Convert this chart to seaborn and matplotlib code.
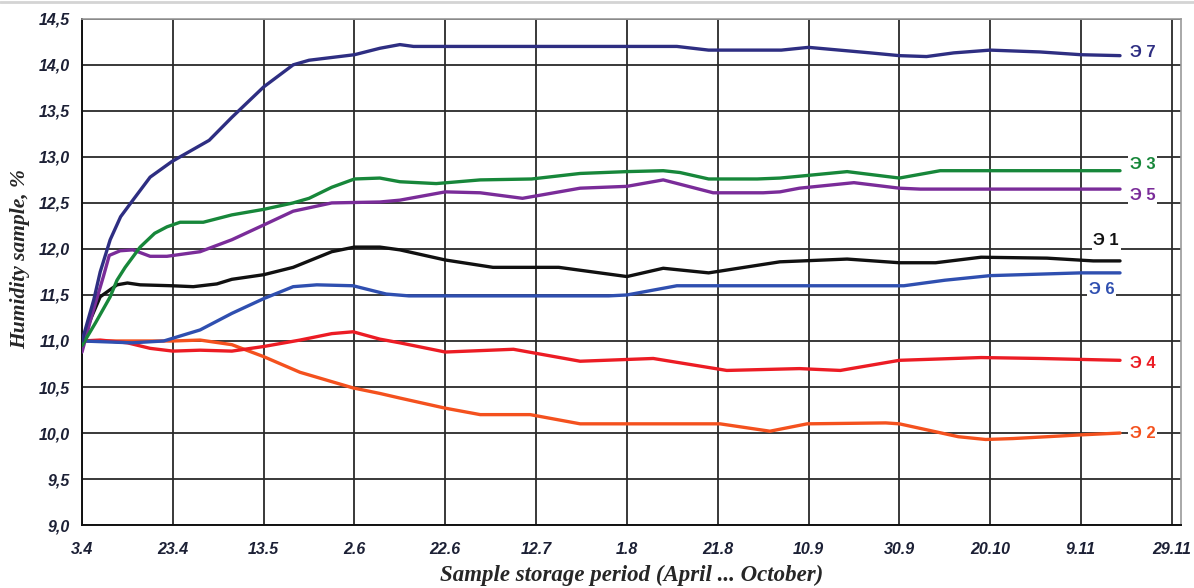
import numpy as np
import pandas as pd
import matplotlib
matplotlib.use("Agg")
import matplotlib.pyplot as plt
import matplotlib.ticker as mticker
from matplotlib.lines import Line2D
import seaborn as sns

# days since 3 April, humidity in %
e7_days = [0, 2.6, 4, 6.2, 8.5, 11.2, 15, 19.8, 28, 33, 40, 46.5, 50, 60, 65.6, 70, 73,
           131, 138, 154, 160, 173.6, 180, 186, 192, 200, 211, 220, 228.6]
e7_vals = [11.0, 11.45, 11.75, 12.1, 12.35, 12.53, 12.78, 12.95, 13.18, 13.43, 13.76, 14.0,
           14.05, 14.11, 14.18, 14.22, 14.2, 14.2, 14.16, 14.16, 14.19, 14.13, 14.1, 14.09,
           14.13, 14.16, 14.14, 14.11, 14.1]

e3_days = [0, 3, 6.2, 7.7, 9.5, 12.8, 16, 18.7, 21.6, 26.7, 33, 40, 46.5, 50, 55, 60, 65.6,
           70, 78, 87.7, 99, 109.7, 120, 128, 131.7, 138, 148.7, 153.7, 158, 168.5, 180, 189, 228.6]
e3_vals = [10.95, 11.2, 11.48, 11.66, 11.8, 12.02, 12.17, 12.24, 12.29, 12.29, 12.37, 12.43,
           12.5, 12.55, 12.67, 12.76, 12.77, 12.73, 12.71, 12.75, 12.76, 12.82, 12.84, 12.85,
           12.83, 12.76, 12.76, 12.77, 12.79, 12.84, 12.77, 12.85, 12.85]

e5_days = [0, 2, 4.7, 6, 8.4, 11.2, 15, 18.7, 26, 33, 40, 46.5, 55, 65.6, 70, 80, 87.7, 97,
           109.7, 120, 128, 139, 150, 153.7, 158, 170, 180, 184.6, 228.6]
e5_vals = [10.88, 11.25, 11.7, 11.93, 11.98, 11.99, 11.92, 11.92, 11.97, 12.1, 12.26, 12.41,
           12.5, 12.51, 12.53, 12.62, 12.61, 12.55, 12.66, 12.68, 12.75, 12.61, 12.61, 12.62,
           12.66, 12.72, 12.66, 12.65, 12.65]

e1_days = [0, 2, 4, 7.7, 10, 12.8, 19.8, 24.5, 29.7, 33, 40, 46.5, 55, 60, 65.6, 70, 80, 90.5,
           105, 120, 128, 138, 153.7, 168.5, 180, 188, 198, 212.5, 222.7, 228.6]
e1_vals = [11.0, 11.25, 11.48, 11.61, 11.63, 11.61, 11.6, 11.59, 11.62, 11.67, 11.72, 11.8,
           11.97, 12.02, 12.02, 11.99, 11.88, 11.8, 11.8, 11.7, 11.79, 11.74, 11.86, 11.89,
           11.85, 11.85, 11.91, 11.9, 11.87, 11.87]

e6_days = [0, 11, 18, 20, 26, 33, 40, 46.5, 51.7, 59.7, 67, 72, 116, 120, 131, 181, 190, 200,
           220, 228.6]
e6_vals = [11.0, 10.98, 11.0, 11.03, 11.12, 11.3, 11.46, 11.59, 11.61, 11.6, 11.51, 11.49,
           11.49, 11.5, 11.6, 11.6, 11.66, 11.71, 11.74, 11.74]

e4_days = [0, 4, 10, 15, 20, 26, 33, 40, 48, 55, 59.7, 65.6, 70, 80, 95, 109.7, 125.8, 142,
           158, 167, 180, 198, 211, 228.6]
e4_vals = [11.0, 11.01, 10.98, 10.92, 10.89, 10.9, 10.89, 10.94, 11.01, 11.08, 11.1, 11.02,
           10.98, 10.88, 10.91, 10.78, 10.81, 10.68, 10.7, 10.68, 10.79, 10.82, 10.81, 10.79]

e2_days = [0, 20, 26, 33, 40, 48, 59.7, 65.6, 70, 80, 87.7, 98.7, 109.7, 140.5, 151.5, 159.7,
           177, 180, 193, 199, 205, 220, 228.6]
e2_vals = [11.0, 11.0, 11.01, 10.96, 10.83, 10.66, 10.49, 10.43, 10.38, 10.27, 10.2, 10.2,
           10.1, 10.1, 10.02, 10.1, 10.11, 10.1, 9.96, 9.93, 9.94, 9.98, 10.0]

series_names = ["Э 2", "Э 4", "Э 6", "Э 1", "Э 5", "Э 3", "Э 7"]
series_colors = ["#f4511e", "#ec1c24", "#2f4fb0", "#111111", "#7a2c99", "#17873a", "#2e2e82"]
x_tick_labels = ["3.4", "23.4", "13.5", "2.6", "22.6", "12.7", "1.8", "21.8", "10.9",
                 "30.9", "20.10", "9.11", "29.11"]

# label anchor (day, value)
label_pos = {"Э 7": (230.8, 14.13), "Э 3": (230.8, 12.92), "Э 5": (230.8, 12.58),
             "Э 1": (222.7, 12.09), "Э 6": (221.8, 11.56), "Э 4": (230.8, 10.76),
             "Э 2": (230.8, 10.0)}

data = {"Э 2": (e2_days, e2_vals), "Э 4": (e4_days, e4_vals), "Э 6": (e6_days, e6_vals),
        "Э 1": (e1_days, e1_vals), "Э 5": (e5_days, e5_vals), "Э 3": (e3_days, e3_vals),
        "Э 7": (e7_days, e7_vals)}

frames = []
for name in series_names:
    d, v = data[name]
    frames.append(pd.DataFrame({"day": d, "humidity": v, "sample": name}))
df = pd.concat(frames, ignore_index=True)

sns.set_style("white")
plt.rcParams["font.family"] = ["Liberation Sans", "DejaVu Sans"]

fig = plt.figure(figsize=(11.94, 5.88), dpi=100)
ax = fig.add_axes([0.0687, 0.107, 0.9203, 0.861])

ax.grid(True, which="major", color="#2a2a2a", lw=1.3, zorder=0)
sns.lineplot(data=df, x="day", y="humidity", hue="sample", hue_order=series_names,
             palette=series_colors, estimator=None, sort=False, lw=2.4,
             legend=False, ax=ax, zorder=3)

ax.set_xlim(0, 242)
ax.set_ylim(9.0, 14.5)
ax.set_xticks(np.arange(0, 241, 20))
ax.set_xticklabels(x_tick_labels)
ax.xaxis.set_minor_locator(mticker.MultipleLocator(5))
ax.yaxis.set_major_locator(mticker.MultipleLocator(0.5))
ax.yaxis.set_minor_locator(mticker.MultipleLocator(0.1))
ax.yaxis.set_major_formatter(mticker.FuncFormatter(lambda v, p: f"{v:.1f}".replace(".", ",")))
ax.set_axisbelow(True)

ax.tick_params(axis="both", which="major", direction="out", length=5, width=1.2,
               colors="#111111", labelcolor="#1c2035", labelsize=11.5)
ax.tick_params(axis="both", which="minor", direction="out", length=3, width=1.0,
               colors="#111111")
ax.tick_params(axis="x", which="major", pad=7)
ax.tick_params(axis="y", which="major", pad=4)
for lab in ax.get_xticklabels() + ax.get_yticklabels():
    lab.set_fontstyle("italic")
    lab.set_fontweight("bold")

for side in ["left", "bottom"]:
    ax.spines[side].set_color("#111111")
    ax.spines[side].set_linewidth(1.4)
for side in ["top", "right"]:
    ax.spines[side].set_color("#9a9a9a")
    ax.spines[side].set_linewidth(1.2)

ax.set_xlabel("Sample storage period (April ... October)", family="Liberation Serif",
              fontsize=16.5, fontweight="bold", fontstyle="italic", labelpad=6)
ax.set_ylabel("Humidity sample, %", family="Liberation Serif", fontsize=15.5,
              fontweight="bold", fontstyle="italic", labelpad=6)
ax.yaxis.label.set_y(0.525)

for name, color in zip(series_names, series_colors):
    lx, ly = label_pos[name]
    ax.text(lx, ly, name, color=color, fontsize=12, fontweight="bold", va="center",
            ha="left", zorder=5,
            bbox=dict(boxstyle="square,pad=0.1", fc="white", ec="none"))

fig.add_artist(Line2D([0, 1], [0.996, 0.996], color="#d4d4d4", lw=2))

fig.savefig("out.png", dpi=100)
